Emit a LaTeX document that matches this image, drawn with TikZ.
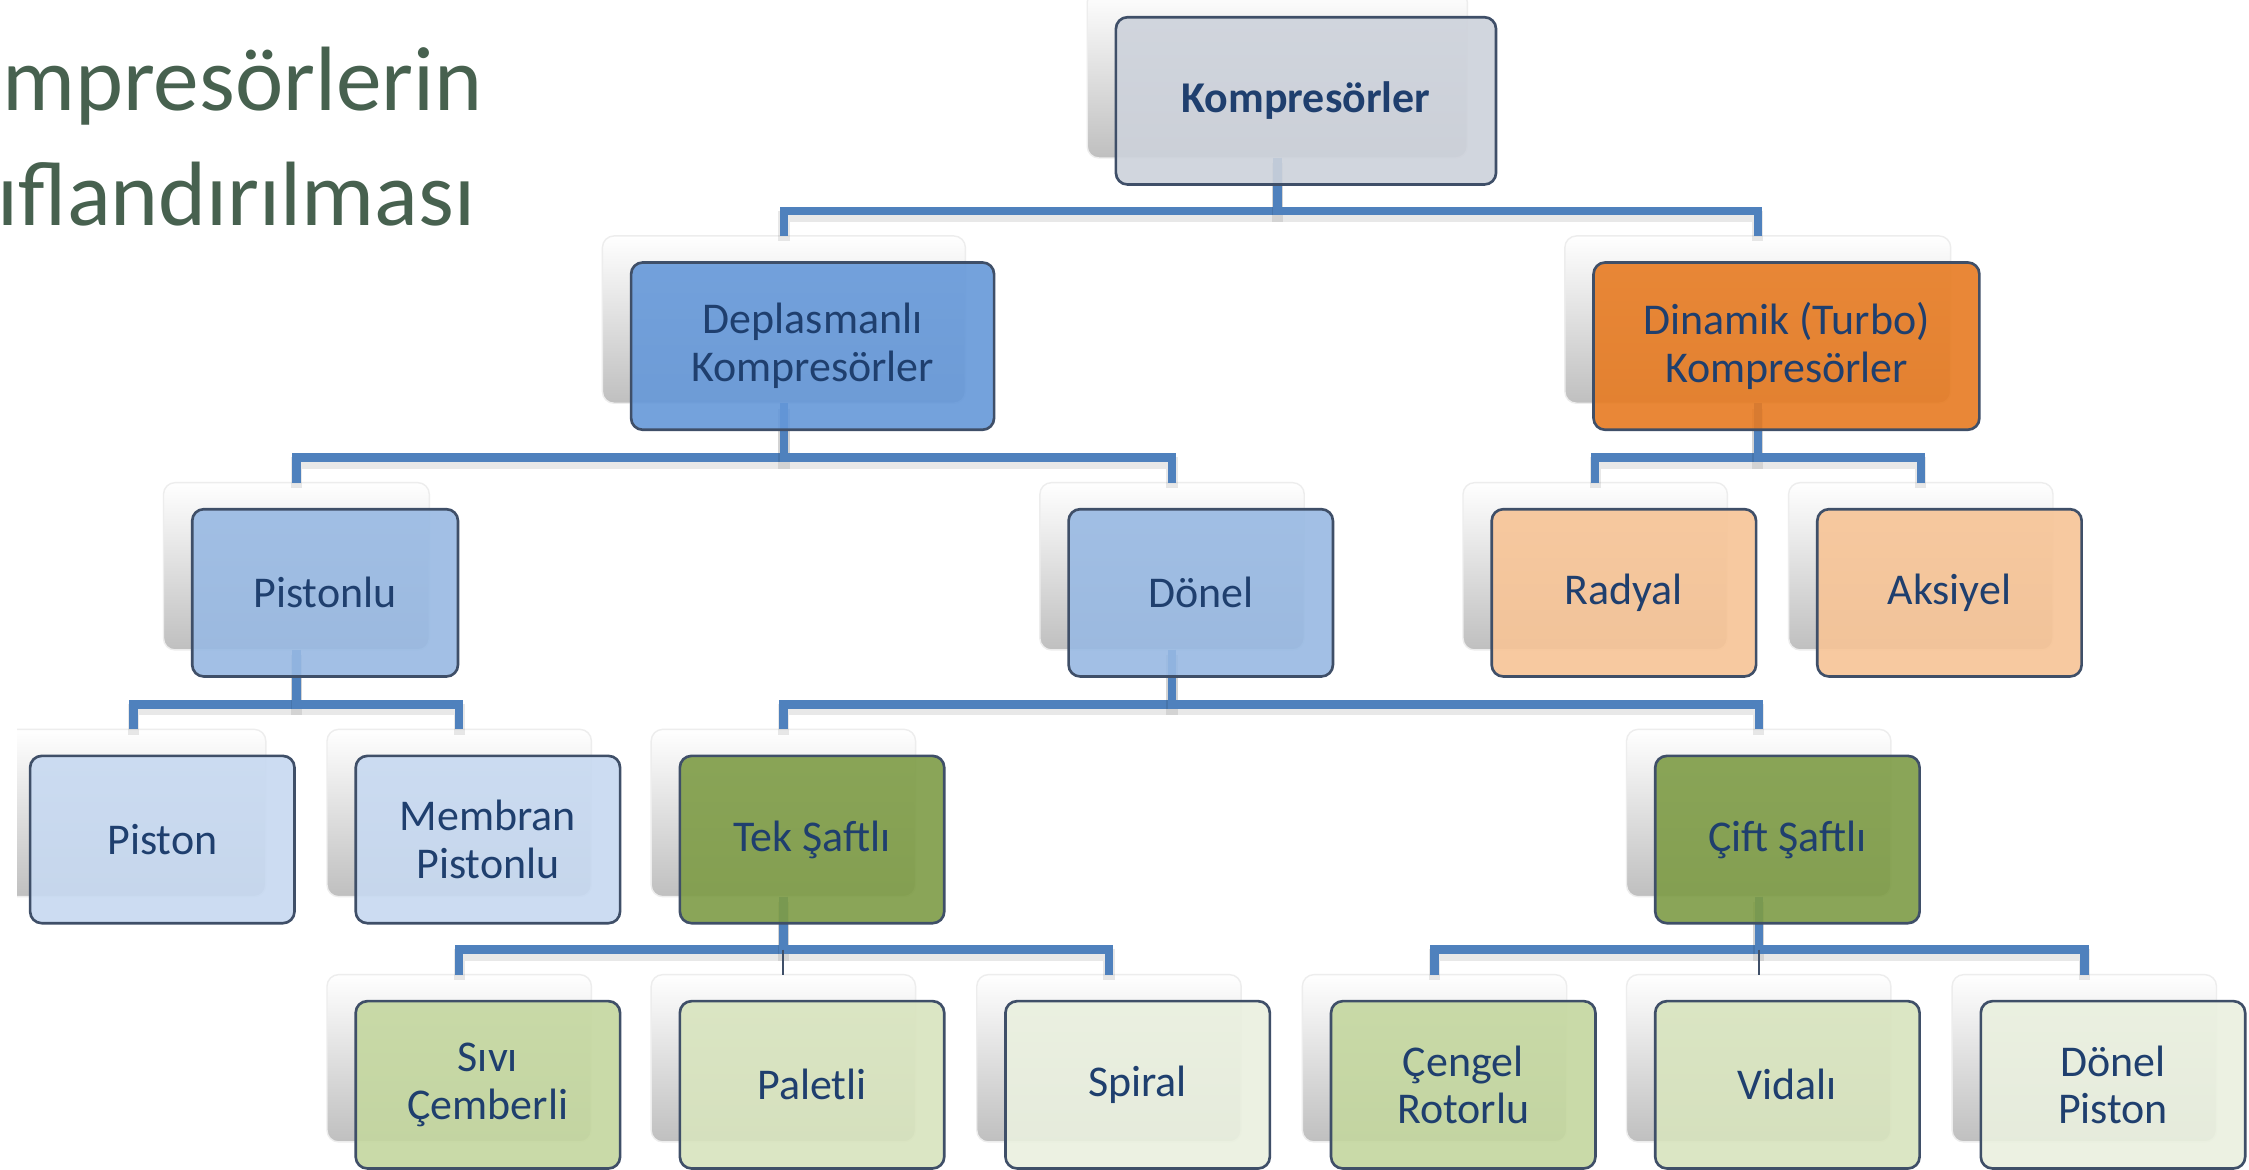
\documentclass[tikz,border=0pt]{standalone}
\usepackage{fontspec}
\setmainfont{Carlito}
\usetikzlibrary{calc}
\definecolor{bordercol}{HTML}{3F4F68}
\definecolor{textcol}{HTML}{1F3F6E}
\definecolor{conncol}{HTML}{4F81BD}
\definecolor{titlecol}{HTML}{47614F}
\definecolor{rootfill}{HTML}{CDD2DB}
\definecolor{depfill}{HTML}{6598D9}
\definecolor{dinfill}{HTML}{E77B22}
\definecolor{lblue}{HTML}{98B9E3}
\definecolor{lorange}{HTML}{F7C496}
\definecolor{llblue}{HTML}{C7D9F1}
\definecolor{olive}{HTML}{7E9C46}
\definecolor{gA}{HTML}{C4D79F}
\definecolor{gB}{HTML}{D8E4BE}
\definecolor{gC}{HTML}{EAF0DF}
\tikzset{
  backcard/.style={rectangle, rounded corners=3.3pt, top color=white, bottom color=black!25,
    draw=black!7, line width=0.4pt, minimum height=47.6pt, inner sep=0pt, outer sep=0pt},
  frontbox/.style={rectangle, rounded corners=3.3pt, draw=bordercol, line width=0.75pt,
    fill opacity=0.9, text opacity=1, minimum height=47.6pt, inner sep=0pt, outer sep=0pt,
    align=center, text=textcol, font=\fontsize{12.5}{13.6}\selectfont},
  conn/.style={draw=conncol, line width=2.4pt},
  connsh/.style={draw=black, opacity=0.09, line width=3.2pt, transform canvas={yshift=-1.5pt}},
  thinl/.style={draw=bordercol, line width=0.6pt},
  titletext/.style={anchor=base west, inner sep=0pt, text=titlecol, font=\fontsize{26}{32}\selectfont}
}
\newcommand\backc[4]{\node[backcard, minimum width={#4*0.40659pt}, anchor=north west] (#1B) at (#2-20,#3-18.5) {};}
\newcommand\frontb[6]{\node[frontbox, fill=#5, minimum width={#4*0.40659pt}, anchor=north west] (#1) at (#2,#3) {#6};}
\newcommand\lnk[2]{%
  \draw[connsh] (#1B.south) |- ([yshift=7.1pt]#2B.north) -- (#2B.north);
  \draw[conn] (#1B.south) |- ([yshift=7.1pt]#2B.north) -- (#2B.north);}
\begin{document}
\begin{tikzpicture}[x=0.014343cm, y=-0.014343cm]
\useasboundingbox (0,0) rectangle (1568,815.7);
\fill[white] (0,0) rectangle (1568,815.7);
% title
\node[titletext] (t1) at (1,77) {mpresörlerin};
\node[titletext] (t2) at (-2,157) {ıflandırılması};
% back cards
\begin{scope}
\clip (12,-20) rectangle (1600,900);
\backc{root}{778}{12}{266}
\backc{dep}{440}{183}{254}
\backc{din}{1111}{183}{270}
\backc{pist}{134}{355}{186}
\backc{don}{745}{355}{185}
\backc{rad}{1040}{355}{185}
\backc{aks}{1267}{355}{185}
\backc{pis}{21}{527}{185}
\backc{mem}{248}{527}{185}
\backc{tek}{474}{527}{185}
\backc{cif}{1154}{527}{185}
\backc{siv}{248}{698}{185}
\backc{pal}{474}{698}{185}
\backc{spi}{701}{698}{185}
\backc{cen}{928}{698}{185}
\backc{vid}{1154}{698}{185}
\backc{dpi}{1381}{698}{185}
\end{scope}
% connectors
\lnk{root}{dep}
\lnk{root}{din}
\lnk{dep}{pist}
\lnk{dep}{don}
\lnk{din}{rad}
\lnk{din}{aks}
\lnk{pist}{pis}
\lnk{pist}{mem}
\lnk{don}{tek}
\lnk{don}{cif}
\lnk{tek}{siv}
\lnk{tek}{spi}
\draw[thinl] ([yshift=7.1pt]palB.north) -- (palB.north);
\lnk{cif}{cen}
\lnk{cif}{dpi}
\draw[thinl] ([yshift=7.1pt]vidB.north) -- (vidB.north);
% front boxes
\frontb{root}{778}{12}{266}{rootfill}{\textbf{Kompresörler}}
\frontb{dep}{440}{183}{254}{depfill}{Deplasmanlı\\Kompresörler}
\frontb{din}{1111}{183}{270}{dinfill}{Dinamik (Turbo)\\Kompresörler}
\frontb{pist}{134}{355}{186}{lblue}{Pistonlu}
\frontb{don}{745}{355}{185}{lblue}{Dönel}
\frontb{rad}{1040}{355}{185}{lorange}{Radyal}
\frontb{aks}{1267}{355}{185}{lorange}{Aksiyel}
\frontb{pis}{21}{527}{185}{llblue}{Piston}
\frontb{mem}{248}{527}{185}{llblue}{Membran\\Pistonlu}
\frontb{tek}{474}{527}{185}{olive}{Tek Şaftlı}
\frontb{cif}{1154}{527}{185}{olive}{Çift Şaftlı}
\frontb{siv}{248}{698}{185}{gA}{Sıvı\\Çemberli}
\frontb{pal}{474}{698}{185}{gB}{Paletli}
\frontb{spi}{701}{698}{185}{gC}{Spiral}
\frontb{cen}{928}{698}{185}{gA}{Çengel\\Rotorlu}
\frontb{vid}{1154}{698}{185}{gB}{Vidalı}
\frontb{dpi}{1381}{698}{185}{gC}{Dönel\\Piston}
\end{tikzpicture}
\end{document}
